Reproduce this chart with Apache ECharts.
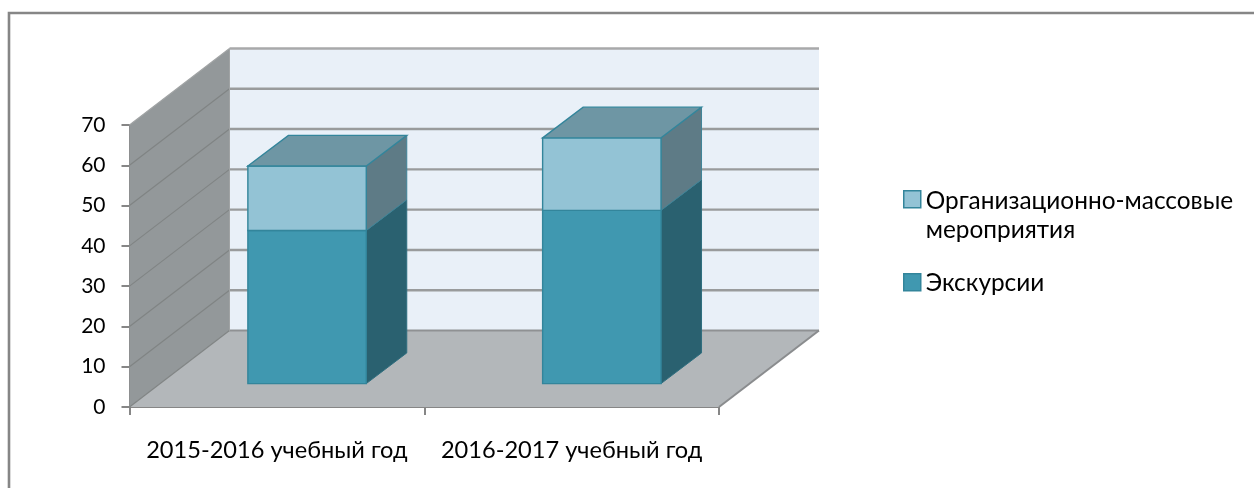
<!DOCTYPE html>
<html><head><meta charset="utf-8">
<style>html,body{margin:0;padding:0;background:#fff}#c{width:1254px;height:488px}</style>
<script src="https://cdn.jsdelivr.net/npm/echarts@6/dist/echarts.min.js"></script>
</head><body><div id="c"></div>
<script>
const categories = ['2015-2016 учебный год', '2016-2017 учебный год'];
const excursions = [38, 43];
const massEvents = [16, 18];
const excursionsName = 'Экскурсии';
const massEventsName = 'Организационно-массовые\nмероприятия';
const yTicks = [0, 10, 20, 30, 40, 50, 60, 70];

const FONT = 'Lato, "Open Sans", sans-serif';
const WALL = [100, -76.5];
const BAR_SHIFT = [30.2, -23.4];
const BAR_DEPTH = [40.5, -30.7];
const BAR_W = 118.4;
const EDGE = '#33859b';

function poly(points, fill, stroke, lw) {
  return {type: 'polygon', shape: {points}, style: {fill, stroke: stroke || null, lineWidth: lw || 0}};
}
function line(a, b, stroke, lw) {
  return {type: 'line', shape: {x1: a[0], y1: a[1], x2: b[0], y2: b[1]}, style: {stroke, lineWidth: lw}};
}
function renderWalls(params, api) {
  const left = params.coordSys.x, right = left + params.coordSys.width;
  const bottom = params.coordSys.y + params.coordSys.height;
  const top = params.coordSys.y;
  const off = (p) => [p[0] + WALL[0], p[1] + WALL[1]];
  const ch = [];
  ch.push(poly([[left, bottom], [left, top], off([left, top]), off([left, bottom])], '#93989a'));
  ch.push(poly([off([left, top]), off([right, top]), off([right, bottom]), off([left, bottom])], '#e9f0f8'));
  ch.push(poly([[left, bottom], [right, bottom], off([right, bottom]), off([left, bottom])], '#b3b7ba'));
  yTicks.forEach((t) => {
    const y = api.coord([0, t])[1];
    if (t > 0) ch.push(line(off([left, y]), off([right, y]), t === 70 ? '#a8a9aa' : '#999b9c', 2.4));
    else ch.push(line(off([left, y]), off([right, y]), '#8f9193', 2.2));
    ch.push(line([left, y], off([left, y]), t === 70 ? '#a0a3a4' : '#808484', 1.2));
  });
  ch.push(line(off([left, top]), off([left, bottom]), '#a0a3a4', 1));
  ch.push(line([right, bottom], off([right, bottom]), '#8a8c8e', 2));
  return {type: 'group', children: ch};
}
function makeBar(colors, isTop) {
  return function (params, api) {
    const cat = api.value(0), lo = api.value(1), hi = api.value(2);
    const c0 = api.coord([cat, lo]), c1 = api.coord([cat, hi]);
    const xL = c0[0] + BAR_SHIFT[0] - BAR_W / 2, xR = xL + BAR_W;
    const yB = c0[1] + BAR_SHIFT[1], yT = c1[1] + BAR_SHIFT[1];
    const dx = BAR_DEPTH[0], dy = BAR_DEPTH[1];
    const ch = [
      poly([[xR, yB], [xR + dx, yB + dy], [xR + dx, yT + dy], [xR, yT]], colors.side, colors.sideEdge, 1),
      poly([[xL, yB], [xR, yB], [xR, yT], [xL, yT]], colors.front, EDGE, 1.4)
    ];
    if (isTop) ch.push(poly([[xL, yT], [xR, yT], [xR + dx, yT + dy], [xL + dx, yT + dy]], colors.top, EDGE, 1.4));
    return {type: 'group', children: ch};
  };
}
const lowerData = categories.map((_, i) => [i, 0, excursions[i]]);
const upperData = categories.map((_, i) => [i, excursions[i], excursions[i] + massEvents[i]]);

const chart = echarts.init(document.getElementById('c'), null, {renderer: 'canvas'});
chart.setOption({
  animation: false,
  backgroundColor: '#fff',
  textStyle: {fontFamily: FONT},
  graphic: [{type: 'polyline', silent: true, z: -10,
    shape: {points: [[9, 488], [9, 13], [1254, 13]]},
    style: {fill: null, stroke: '#868686', lineWidth: 2.6}}],
  grid: {left: 129.5, top: 125, width: 589.5, height: 282, containLabel: false},
  legend: {
    left: 898, top: 181, orient: 'vertical', itemWidth: 17, itemHeight: 58, itemGap: 8,
    selectedMode: false,
    itemStyle: {borderColor: '#33859b', borderWidth: 1.5},
    textStyle: {fontFamily: FONT, fontSize: 24.4, color: '#000', lineHeight: 29},
    data: [
      {name: massEventsName, icon: 'path://M0 4H17V21H0Z M0 0L0 0 M0 58L0 58'},
      {name: excursionsName, icon: 'path://M0 19.5H17V36.5H0Z M0 0L0 0 M0 58L0 58'}
    ]
  },
  xAxis: {
    type: 'category', data: categories,
    axisLine: {lineStyle: {color: '#868686', width: 2}},
    axisTick: {show: true, length: 8, lineStyle: {color: '#868686', width: 2}},
    axisLabel: {margin: 31, interval: 0, fontSize: 23.6, color: '#000', fontFamily: FONT},
    splitLine: {show: false}
  },
  yAxis: {
    type: 'value', min: 0, max: 70, interval: 10,
    axisLine: {show: true, lineStyle: {color: '#868686', width: 2}},
    axisTick: {show: true, length: 8, lineStyle: {color: '#868686', width: 2}},
    axisLabel: {margin: 24, fontSize: 21, color: '#000', fontFamily: FONT},
    splitLine: {show: false}
  },
  series: [
    {name: 'walls', type: 'custom', z: 1, silent: true, data: [[0]], renderItem: renderWalls},
    {name: excursionsName, type: 'custom', z: 2, silent: true, data: lowerData,
     itemStyle: {color: '#4098b0'}, encode: {x: 0, y: 2},
     renderItem: makeBar({front: '#4098b0', side: '#2a6170', sideEdge: '#2f6e7f'}, false)},
    {name: massEventsName, type: 'custom', z: 3, silent: true, data: upperData,
     itemStyle: {color: '#93c3d5'}, encode: {x: 0, y: 2},
     renderItem: makeBar({front: '#93c3d5', side: '#5e7b86', top: '#6e96a4', sideEdge: '#3f8498'}, true)}
  ]
});
</script></body></html>
